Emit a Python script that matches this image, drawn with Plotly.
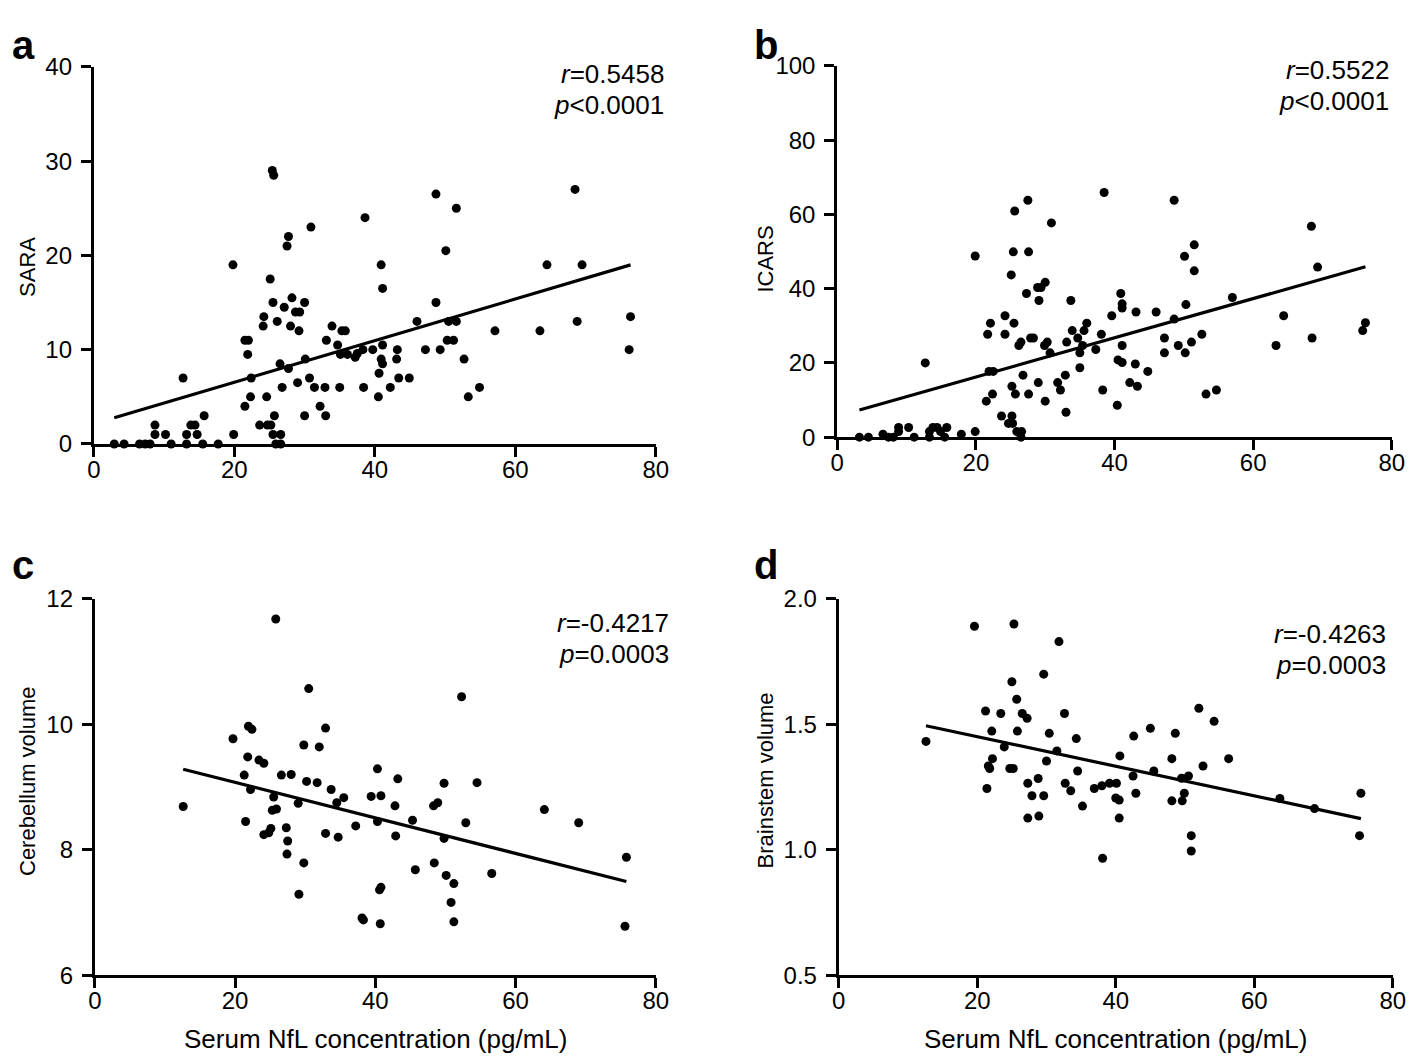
import numpy as np
import plotly.graph_objects as go

W, H = 1418, 1061
FONT = "Liberation Sans, Arial, Helvetica, sans-serif"

# ---------------- data ----------------
# Panel a: SARA vs serum NfL
a_nfl = [2.9, 4.3, 6.5, 7.3, 8.0, 11.0, 13.2, 15.5, 17.7, 25.9, 26.6,
         8.7, 10.2, 13.2, 14.7, 19.9, 25.5, 26.6,
         8.7, 13.8, 14.4, 23.6, 24.7, 25.2,
         15.7, 25.7, 30.0, 33.0,
         21.5, 32.2,
         22.3, 24.6, 40.5, 53.3,
         26.8, 31.4, 32.9, 35.0, 38.4, 42.2, 54.9,
         29.0,
         12.7, 22.4, 30.7, 43.4, 44.9,
         40.6,
         27.7,
         26.5, 41.1,
         30.1, 40.9, 43.1, 52.7,
         37.2,
         21.9, 35.1, 36.1, 37.5,
         38.3, 39.7, 43.2, 47.2, 49.3, 76.2,
         34.7, 41.1,
         21.5, 22.0, 33.1, 50.3, 51.2,
         29.2, 35.3, 35.8, 57.1, 63.5,
         24.1, 28.0, 33.9,
         26.1, 46.0, 50.5, 51.6, 68.8,
         24.2, 76.4,
         28.7, 29.3,
         27.1,
         25.5, 30.0, 48.7,
         28.2,
         41.1,
         25.1,
         19.8, 40.9, 64.5, 69.5,
         50.1,
         27.5,
         27.7,
         30.9,
         38.6,
         51.6,
         48.7,
         68.5,
         25.6,
         25.4]
a_sara = [0, 0, 0, 0, 0, 0, 0, 0, 0, 0, 0,
          1, 1, 1, 1, 1, 1, 1,
          2, 2, 2, 2, 2, 2,
          3, 3, 3, 3,
          4, 4,
          5, 5, 5, 5,
          6, 6, 6, 6, 6, 6, 6,
          6.5,
          7, 7, 7, 7, 7,
          7.5,
          8,
          8.5, 8.5,
          9, 9, 9, 9,
          9.2,
          9.5, 9.5, 9.5, 9.6,
          10, 10, 10, 10, 10, 10,
          10.5, 10.5,
          11, 11, 11, 11, 11,
          12, 12, 12, 12, 12,
          12.5, 12.5, 12.5,
          13, 13, 13, 13, 13,
          13.5, 13.5,
          14, 14,
          14.5,
          15, 15, 15,
          15.5,
          16.5,
          17.5,
          19, 19, 19, 19,
          20.5,
          21,
          22,
          23,
          24,
          25,
          26.5,
          27,
          28.5,
          29]

# Panel b: ICARS vs serum NfL
b_nfl = [3.2, 4.5, 7.4, 8.1, 11.1, 13.3, 15.5, 26.5,
         6.6, 17.9,
         8.85, 13.3, 14.9, 19.9, 25.9, 26.6,
         8.85, 10.3, 13.8, 14.4, 15.8,
         24.7, 25.3,
         23.7, 25.2,
         33.0,
         40.4,
         21.5, 30.0,
         22.4, 25.7, 27.6, 53.2,
         32.2, 38.3, 54.7,
         25.2, 43.3,
         29.0, 31.8, 42.2,
         26.8, 32.9,
         21.9, 22.5, 44.8,
         35.0,
         43.0,
         12.7, 41.1,
         40.5,
         30.7, 35.0, 47.2, 50.2,
         37.3,
         26.2, 29.9, 35.4, 41.1, 49.2, 63.3,
         26.5, 30.3, 33.1, 51.1,
         27.9, 28.3, 34.7, 47.2, 68.5,
         21.7, 24.2, 38.1, 52.6,
         33.9, 35.6, 75.8,
         22.1, 25.5, 36.0, 76.2,
         48.6,
         24.2, 39.6, 64.4,
         43.1, 46.0,
         41.1,
         41.1, 50.3,
         29.1, 33.7,
         57.0,
         27.3, 40.9,
         28.9, 29.4,
         30.0,
         25.1,
         51.5,
         69.3,
         50.1,
         19.9,
         25.4, 27.6,
         51.5,
         68.4,
         30.9,
         25.6,
         27.5, 48.6,
         38.5]
b_icars = [0, 0, 0, 0, 0, 0, 0, 0,
           0.8, 0.8,
           1.5, 1.5, 1.5, 1.5, 1.5, 1.5,
           2.6, 2.6, 2.6, 2.6, 2.6,
           3.7, 3.7,
           5.7, 5.7,
           6.7,
           8.6,
           9.7, 9.7,
           11.6, 11.6, 11.6, 11.6,
           12.7, 12.7, 12.7,
           13.7, 13.7,
           14.7, 14.7, 14.7,
           16.7, 16.7,
           17.7, 17.7, 17.7,
           18.7,
           19.7,
           20.0, 20.1,
           20.8,
           22.7, 22.7, 22.7, 22.7,
           23.6,
           24.7, 24.7, 24.7, 24.7, 24.7, 24.7,
           25.6, 25.6, 25.6, 25.6,
           26.7, 26.7, 26.7, 26.7, 26.7,
           27.7, 27.7, 27.7, 27.7,
           28.7, 28.7, 28.7,
           30.7, 30.7, 30.7, 30.8,
           31.8,
           32.7, 32.7, 32.7,
           33.7, 33.7,
           34.8,
           35.9, 35.7,
           36.8, 36.8,
           37.6,
           38.7, 38.7,
           40.3, 40.3,
           41.7,
           43.7,
           44.8,
           45.8,
           48.7,
           48.8,
           49.9, 49.9,
           51.8,
           56.8,
           57.7,
           60.9,
           63.8, 63.8,
           65.9]

# Panel c: cerebellum volume vs serum NfL
c_nfl = [25.8, 30.5, 21.9, 22.4, 32.9, 19.7, 29.8, 32.0, 21.8, 23.4, 24.1, 40.3,
         21.3, 26.6, 28.0, 30.2, 31.7, 22.2, 33.7, 25.5, 35.5, 39.4, 40.8, 34.5,
         29.0, 12.6, 25.9, 25.3, 21.5, 40.3, 37.2, 25.1, 27.3, 24.1, 24.8, 32.9,
         34.7, 27.5, 27.4, 29.8, 29.1, 40.8, 40.6, 38.1, 38.3, 40.7,
         52.3, 43.2, 49.8, 54.5, 42.8, 48.3, 48.9, 64.1, 69.0, 45.3, 52.9, 42.9,
         49.8, 75.8, 48.4, 45.7, 50.1, 51.2, 56.6, 50.8, 51.2, 75.6]
c_cereb = [11.68, 10.57, 9.97, 9.92, 9.94, 9.77, 9.67, 9.64, 9.48, 9.43, 9.38, 9.29,
           9.19, 9.19, 9.20, 9.09, 9.07, 8.96, 8.96, 8.84, 8.83, 8.85, 8.86, 8.75,
           8.74, 8.69, 8.65, 8.63, 8.45, 8.45, 8.38, 8.34, 8.35, 8.24, 8.27, 8.26,
           8.20, 8.14, 7.93, 7.79, 7.29, 7.40, 7.36, 6.91, 6.88, 6.82,
           10.44, 9.13, 9.06, 9.07, 8.70, 8.70, 8.75, 8.64, 8.43, 8.47, 8.43, 8.22,
           8.18, 7.88, 7.79, 7.68, 7.59, 7.46, 7.62, 7.16, 6.85, 6.78]

# Panel d: brainstem volume vs serum NfL
d_nfl = [19.6, 25.3, 31.8, 29.6, 25.0, 25.7, 21.2, 23.4, 26.5, 27.2, 32.6, 22.1,
         25.8, 30.4, 34.3, 12.6, 23.9, 31.5, 40.6, 22.2, 30.0, 21.6, 21.8, 24.7,
         25.2, 34.5, 21.4, 27.3, 28.8, 32.7, 33.5, 27.9, 29.6, 36.9, 38.0, 39.1,
         40.1, 35.2, 40.0, 40.5, 27.3, 28.9, 40.5, 38.1,
         52.0, 54.2, 42.6, 45.0, 48.6, 48.1, 56.3, 52.6, 45.5, 42.5, 49.5, 50.5,
         42.9, 49.9, 75.4, 48.1, 49.6, 63.7, 68.7, 50.9, 50.9, 75.2]
d_brainstem = [1.891, 1.900, 1.830, 1.700, 1.670, 1.600, 1.553, 1.543, 1.543, 1.524, 1.543, 1.473,
               1.473, 1.464, 1.443, 1.432, 1.410, 1.394, 1.374, 1.363, 1.354, 1.334, 1.324, 1.324,
               1.324, 1.314, 1.244, 1.265, 1.284, 1.265, 1.235, 1.215, 1.215, 1.244, 1.255, 1.265,
               1.265, 1.174, 1.206, 1.198, 1.126, 1.134, 1.126, 0.966,
               1.564, 1.512, 1.453, 1.484, 1.464, 1.363, 1.363, 1.334, 1.314, 1.294, 1.285, 1.294,
               1.225, 1.225, 1.225, 1.195, 1.195, 1.204, 1.164, 1.056, 0.995, 1.056]

x_ticks = [0, 20, 40, 60, 80]
a_yticks = [0, 10, 20, 30, 40]
b_yticks = [0, 20, 40, 60, 80, 100]
c_yticks = [6, 8, 10, 12]
d_yticks = [0.5, 1.0, 1.5, 2.0]
d_yticklabels = ["0.5", "1.0", "1.5", "2.0"]

panel_letters = ["a", "b", "c", "d"]
y_titles = ["SARA", "ICARS", "Cerebellum volume", "Brainstem volume"]
x_title = "Serum NfL concentration (pg/mL)"
r_texts = ["<i>r</i>=0.5458", "<i>r</i>=0.5522", "<i>r</i>=-0.4217", "<i>r</i>=-0.4263"]
p_texts = ["<i>p</i>&lt;0.0001", "<i>p</i>&lt;0.0001", "<i>p</i>=0.0003", "<i>p</i>=0.0003"]

# ---------------- layout helpers ----------------
def fx(px):
    return px / W

def fy(py):
    return 1 - py / H

# plot-area boxes in pixels: (left, right, top, bottom)
boxes = [(80.0, 650.0, 46.0, 433.0),
         (834.0, 1396.5, 45.0, 426.0),
         (81.0, 650.0, 592.0, 978.0),
         (835.5, 1397.5, 592.0, 978.0)]
y_ranges = [[0, 40], [0, 100], [6, 12], [0.5, 2.0]]
y_tickvals = [a_yticks, b_yticks, c_yticks, d_yticks]
y_ticktext = [[str(v) for v in a_yticks], [str(v) for v in b_yticks],
              [str(v) for v in c_yticks], d_yticklabels]
datasets = [(a_nfl, a_sara), (b_nfl, b_icars), (c_nfl, c_cereb), (d_nfl, d_brainstem)]

letter_pos = [(-4, 0), (749, 0), (-4, 534), (749, 534)]
ytitle_x = [12, 761, 12, 761]
ytitle_dy = [12, 8, -6, -7]
rp_pos = [(660, 53), (1396, 49), (665, 617), (1393, 628)]

fig = go.Figure()
layout = dict(width=W, height=H, margin=dict(l=0, r=0, t=0, b=0),
              paper_bgcolor="white", plot_bgcolor="white", showlegend=False,
              font=dict(family=FONT, color="black"))
annotations = []

for i, (xs, ys) in enumerate(datasets):
    n = "" if i == 0 else str(i + 1)
    xa, ya = "x" + n, "y" + n
    fig.add_trace(go.Scatter(x=xs, y=ys, mode="markers", xaxis=xa, yaxis=ya,
                             marker=dict(color="black", size=9),
                             cliponaxis=False, hoverinfo="x+y"))
    slope, intercept = np.polyfit(np.array(xs), np.array(ys), 1)
    lx = np.array([min(xs), max(xs)])
    fig.add_trace(go.Scatter(x=lx, y=slope * lx + intercept, mode="lines",
                             xaxis=xa, yaxis=ya, line=dict(color="black", width=3.2),
                             hoverinfo="skip"))
    L, R, T, B = boxes[i]
    axis_common = dict(showline=True, linecolor="black", linewidth=3,
                       ticks="outside", ticklen=10, tickwidth=3, tickcolor="black",
                       showgrid=False, zeroline=False,
                       tickfont=dict(size=24, family=FONT, color="black"))
    layout["xaxis" + n] = dict(domain=[fx(L), fx(R)], range=[0, 80], tickvals=x_ticks,
                               ticklabelstandoff=-8, anchor=ya, **axis_common)
    layout["yaxis" + n] = dict(domain=[fy(B), fy(T)], range=y_ranges[i],
                               tickvals=y_tickvals[i], ticktext=y_ticktext[i],
                               ticklabelstandoff=4, anchor=xa, **axis_common)
    lx0, ly0 = letter_pos[i]
    annotations.append(dict(text="<b>%s</b>" % panel_letters[i], xref="paper", yref="paper",
                            x=fx(lx0), y=fy(ly0), xanchor="left", yanchor="top",
                            showarrow=False, borderpad=0,
                            font=dict(size=40, family=FONT, color="black")))
    annotations.append(dict(text=y_titles[i], xref="paper", yref="paper",
                            x=fx(ytitle_x[i]), y=fy((T + B) / 2 + ytitle_dy[i]),
                            xanchor="center", yanchor="middle", textangle=-90,
                            showarrow=False, font=dict(size=22, family=FONT, color="black")))
    rx, ry = rp_pos[i]
    annotations.append(dict(text=r_texts[i], xref="paper", yref="paper",
                            x=fx(rx), y=fy(ry), xanchor="right", yanchor="middle",
                            showarrow=False, font=dict(size=26, family=FONT, color="black")))
    annotations.append(dict(text=p_texts[i], xref="paper", yref="paper",
                            x=fx(rx), y=fy(ry + 32), xanchor="right", yanchor="middle",
                            showarrow=False, font=dict(size=26, family=FONT, color="black")))
    if i >= 2:
        annotations.append(dict(text=x_title, xref="paper", yref="paper",
                                x=fx((L + R) / 2), y=fy(1044), xanchor="center",
                                yanchor="middle", showarrow=False,
                                font=dict(size=26, family=FONT, color="black")))

layout["annotations"] = annotations
fig.update_layout(**layout)
fig.write_html("out.html")
